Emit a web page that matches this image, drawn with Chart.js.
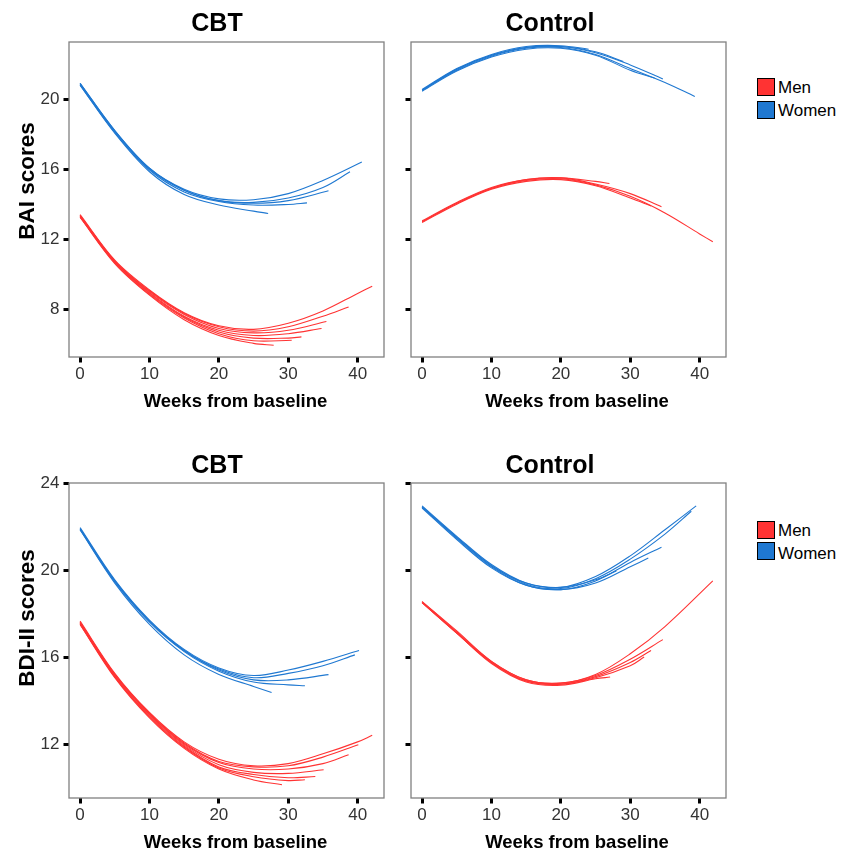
<!DOCTYPE html>
<html><head><meta charset="utf-8">
<script src="https://cdn.jsdelivr.net/npm/chart.js@4/dist/chart.umd.min.js"></script>
<style>
html,body{margin:0;padding:0;background:#fff;}
body{width:848px;height:851px;position:relative;overflow:hidden;font-family:"Liberation Sans",Arial,sans-serif;}
.cv{position:absolute;}
.t{position:absolute;white-space:nowrap;line-height:1;color:#000;}
.ttl{font-size:25px;font-weight:bold;transform:translateX(-50%);}
.xt{font-size:18.5px;font-weight:bold;transform:translateX(-50%);}
.yt{font-size:22.5px;font-weight:bold;transform:translate(-50%,-50%) rotate(-90deg);}
.lg{font-size:17px;}
.key{position:absolute;width:16px;height:16px;border:1px solid #000;}
</style></head><body>

<div class="cv" style="left:0;top:0;width:390px;height:420px"><canvas id="c1" width="390" height="420"></canvas></div>
<div class="cv" style="left:390px;top:0;width:346px;height:420px"><canvas id="c2" width="346" height="420"></canvas></div>
<div class="cv" style="left:0;top:441px;width:390px;height:410px"><canvas id="c3" width="390" height="410"></canvas></div>
<div class="cv" style="left:390px;top:441px;width:346px;height:410px"><canvas id="c4" width="346" height="410"></canvas></div>

<div class="t ttl" style="left:217px;top:9.5px">CBT</div>
<div class="t ttl" style="left:550px;top:9.5px">Control</div>
<div class="t ttl" style="left:217px;top:452px">CBT</div>
<div class="t ttl" style="left:550px;top:452px">Control</div>

<div class="t xt" style="left:235.5px;top:391.6px">Weeks from baseline</div>
<div class="t xt" style="left:577px;top:391.6px">Weeks from baseline</div>
<div class="t xt" style="left:235.5px;top:832.6px">Weeks from baseline</div>
<div class="t xt" style="left:577px;top:832.6px">Weeks from baseline</div>

<div class="t yt" style="left:26.9px;top:180.5px">BAI scores</div>
<div class="t yt" style="left:26.9px;top:618.3px">BDI-II scores</div>

<div class="key" style="left:757px;top:78px;background:#FF3333"></div>
<div class="key" style="left:757px;top:101px;background:#1F78D1"></div>
<div class="t lg" style="left:778px;top:78.9px">Men</div>
<div class="t lg" style="left:778px;top:102.3px">Women</div>
<div class="key" style="left:757px;top:520.7px;background:#FF3333"></div>
<div class="key" style="left:757px;top:542px;background:#1F78D1"></div>
<div class="t lg" style="left:778px;top:522.3px">Men</div>
<div class="t lg" style="left:778px;top:544.6px">Women</div>

<script>
// ---------- DATA (weeks, score) ----------
const weekTicks = [0, 10, 20, 30, 40];
const baiTicks = [8, 12, 16, 20];
const bdiTicks = [12, 16, 20, 24];
const groups = ["Men", "Women"];

// BAI, CBT
const baiCbtMen = [
  [[0,13.4],[5,10.8],[10,9.1],[15,7.8],[20,7.05],[25,6.85],[30,7.2],[35,7.9],[40,8.9],[42.1,9.31]],
  [[0,13.35],[5,10.75],[10,9.05],[15,7.75],[20,7.0],[25,6.75],[30,7.0],[35,7.6],[38.7,8.13]],
  [[0,13.35],[5,10.75],[10,9.0],[15,7.7],[20,6.9],[25,6.65],[30,6.8],[35.5,7.3]],
  [[0,13.3],[5,10.7],[10,8.95],[15,7.6],[20,6.8],[25,6.5],[30,6.6],[34.8,6.9]],
  [[0,13.3],[5,10.7],[10,8.9],[15,7.55],[20,6.7],[25,6.35],[30,6.35],[31.9,6.42]],
  [[0,13.25],[5,10.65],[10,8.85],[15,7.5],[20,6.6],[25,6.2],[30.5,6.23]],
  [[0,13.25],[5,10.6],[10,8.8],[15,7.4],[20,6.5],[25,6.05],[27.9,5.94]]
];
const baiCbtWomen = [
  [[0,20.9],[5,18.2],[10,16.05],[15,14.85],[20,14.3],[25,14.25],[30,14.6],[35,15.35],[40.6,16.4]],
  [[0,20.85],[5,18.15],[10,16.0],[15,14.8],[20,14.2],[25,14.1],[30,14.35],[35,14.95],[38.9,15.85]],
  [[0,20.9],[5,18.2],[10,16.05],[15,14.8],[20,14.2],[25,14.05],[30,14.2],[35.8,14.76]],
  [[0,20.8],[5,18.1],[10,15.95],[15,14.7],[20,14.15],[25,13.95],[30,13.98],[32.7,14.07]],
  [[0,20.8],[5,18.05],[10,15.85],[15,14.55],[20,13.95],[25,13.6],[27.1,13.47]]
];
// BAI, Control
const baiCtlMen = [
  [[0,13.0],[5,14.05],[10,14.9],[15,15.35],[20,15.45],[25,15.1],[30,14.45],[35,13.5],[40,12.3],[41.9,11.85]],
  [[0,13.0],[5,14.05],[10,14.9],[15,15.4],[20,15.5],[25,15.15],[30,14.6],[34.5,13.85]],
  [[0,12.95],[5,14.0],[10,14.85],[15,15.3],[20,15.4],[25,15.05],[30,14.35],[33,13.9]],
  [[0,13.05],[5,14.1],[10,14.95],[15,15.4],[20,15.5],[25,15.3],[27,15.18]]
];
const baiCtlWomen = [
  [[0,20.5],[5,21.65],[10,22.45],[15,22.9],[20,22.95],[25,22.55],[30,21.75],[35,20.95],[39.3,20.15]],
  [[0,20.5],[5,21.7],[10,22.5],[15,22.95],[20,23.0],[25,22.65],[30,21.95],[34.7,21.15]],
  [[0,20.45],[5,21.6],[10,22.4],[15,22.85],[20,22.9],[25,22.5],[30,21.65],[33.5,21.2]],
  [[0,20.5],[5,21.7],[10,22.5],[15,22.95],[20,23.0],[25,22.7],[29,22.15]],
  [[0,20.55],[5,21.75],[10,22.55],[15,23.0],[20,23.05],[24,22.85]]
];
// BDI-II, CBT
const bdiCbtMen = [
  [[0,17.65],[5,15.25],[10,13.45],[15,12.1],[20,11.3],[25,11.0],[30,11.1],[35,11.55],[40,12.1],[42.1,12.4]],
  [[0,17.6],[5,15.2],[10,13.4],[15,12.05],[20,11.2],[25,10.95],[30,11.0],[35,11.4],[40.1,11.97]],
  [[0,17.6],[5,15.2],[10,13.4],[15,12.0],[20,11.15],[25,10.85],[30,10.85],[35,11.1],[38.7,11.51]],
  [[0,17.55],[5,15.15],[10,13.35],[15,11.95],[20,11.05],[25,10.7],[30,10.65],[35.1,10.82]],
  [[0,17.55],[5,15.1],[10,13.3],[15,11.9],[20,10.95],[25,10.6],[30,10.45],[33.9,10.51]],
  [[0,17.5],[5,15.1],[10,13.25],[15,11.85],[20,10.9],[25,10.5],[30,10.32],[32.4,10.36]],
  [[0,17.5],[5,15.05],[10,13.2],[15,11.8],[20,10.85],[25,10.35],[29.1,10.13]]
];
const bdiCbtWomen = [
  [[0,21.95],[5,19.55],[10,17.7],[15,16.35],[20,15.5],[25,15.15],[30,15.4],[35,15.8],[40.2,16.3]],
  [[0,21.9],[5,19.5],[10,17.65],[15,16.3],[20,15.45],[25,15.05],[30,15.25],[35,15.6],[39.6,16.1]],
  [[0,21.9],[5,19.5],[10,17.65],[15,16.3],[20,15.4],[25,14.95],[30,14.95],[35.8,15.19]],
  [[0,21.85],[5,19.45],[10,17.6],[15,16.25],[20,15.35],[25,14.85],[30,14.72],[32.4,14.68]],
  [[0,21.85],[5,19.4],[10,17.5],[15,16.1],[20,15.2],[25,14.65],[27.6,14.37]]
];
// BDI-II, Control
const bdiCtlMen = [
  [[0,18.55],[5,17.2],[10,15.8],[15,14.95],[20,14.8],[25,15.2],[30,16.15],[35,17.4],[41.9,19.5]],
  [[0,18.55],[5,17.15],[10,15.8],[15,14.95],[20,14.8],[25,15.15],[30,15.9],[34.7,16.8]],
  [[0,18.5],[5,17.1],[10,15.75],[15,14.9],[20,14.75],[25,15.1],[30,15.75],[33,16.3]],
  [[0,18.5],[5,17.1],[10,15.75],[15,14.9],[20,14.75],[25,15.05],[30,15.6],[32,16.0]],
  [[0,18.5],[5,17.1],[10,15.7],[15,14.85],[20,14.7],[25,15.0],[27.1,15.08]]
];
const bdiCtlWomen = [
  [[0,22.95],[5,21.55],[10,20.25],[15,19.4],[20,19.2],[25,19.7],[30,20.65],[35,21.85],[39.5,22.95]],
  [[0,22.9],[5,21.5],[10,20.2],[15,19.35],[20,19.15],[25,19.6],[30,20.5],[35,21.65],[38.8,22.7]],
  [[0,22.9],[5,21.45],[10,20.15],[15,19.3],[20,19.1],[25,19.5],[30,20.35],[34.5,21.05]],
  [[0,22.85],[5,21.4],[10,20.1],[15,19.3],[20,19.1],[25,19.4],[30,20.15],[32.6,20.55]],
  [[0,22.9],[5,21.5],[10,20.2],[15,19.4],[20,19.2],[25,19.55],[28,19.95]]
];

// ---------- RENDERING ----------
const COLORS = {Men: "#FF3333", Women: "#1F78D1"};
const FONT = '"Liberation Sans", Arial, sans-serif';
Chart.defaults.font.family = FONT;
Chart.defaults.animation = false;

const boxPlugin = {
  id: "box",
  afterDatasetsDraw(chart) {
    const {ctx, chartArea: a} = chart;
    ctx.save();
    ctx.strokeStyle = "#808080";
    ctx.lineWidth = 1.3;
    ctx.strokeRect(a.left, a.top, a.right - a.left, a.bottom - a.top);
    ctx.restore();
  }
};

function makeDatasets(men, women) {
  const ds = [];
  [[men, "Men"], [women, "Women"]].forEach(([curves, g]) => {
    curves.forEach(c => ds.push({
      label: g,
      data: c.map(p => ({x: p[0], y: p[1]})),
      borderColor: COLORS[g],
      borderWidth: 1.1,
      pointRadius: 0,
      tension: 0.35,
      fill: false
    }));
  });
  return ds;
}

function makeChart(id, men, women, yMin, yMax, yTicks, showY, yWidth, rightPad, xHeight) {
  new Chart(document.getElementById(id), {
    type: "line",
    data: {datasets: makeDatasets(men, women)},
    options: {
      responsive: false,
      animation: false,
      layout: {padding: {top: 42, right: rightPad, left: 0, bottom: 0}},
      plugins: {legend: {display: false}, tooltip: {enabled: false}, title: {display: false}},
      scales: {
        x: {
          type: "linear", min: -1.6, max: 43.8,
          afterBuildTicks: s => { s.ticks = weekTicks.map(v => ({value: v})); },
          afterFit: s => { s.height = xHeight; },
          grid: {drawOnChartArea: false, drawTicks: true, tickLength: 5.5, tickWidth: 3, tickColor: "#000"},
          border: {display: false},
          ticks: {font: {size: 17, family: FONT}, color: "#333", padding: 2, maxRotation: 0, autoSkip: false}
        },
        y: {
          type: "linear", min: yMin, max: yMax,
          afterBuildTicks: s => { s.ticks = yTicks.map(v => ({value: v})); },
          afterFit: s => { s.width = yWidth; },
          grid: {drawOnChartArea: false, drawTicks: true, tickLength: 5.5, tickWidth: 3, tickColor: "#000"},
          border: {display: false},
          ticks: {display: showY, font: {size: 17, family: FONT}, color: "#333", padding: 4, autoSkip: false}
        }
      }
    },
    plugins: [boxPlugin]
  });
}

makeChart("c1", baiCbtMen, baiCbtWomen, 5.27, 23.26, baiTicks, true, 69, 6, 63);
makeChart("c2", baiCtlMen, baiCtlWomen, 5.27, 23.26, baiTicks, false, 21, 10, 63);
makeChart("c3", bdiCbtMen, bdiCbtWomen, 9.52, 24, bdiTicks, true, 69, 6, 53);
makeChart("c4", bdiCtlMen, bdiCtlWomen, 9.52, 24, bdiTicks, false, 21, 10, 53);
</script>
</body></html>
